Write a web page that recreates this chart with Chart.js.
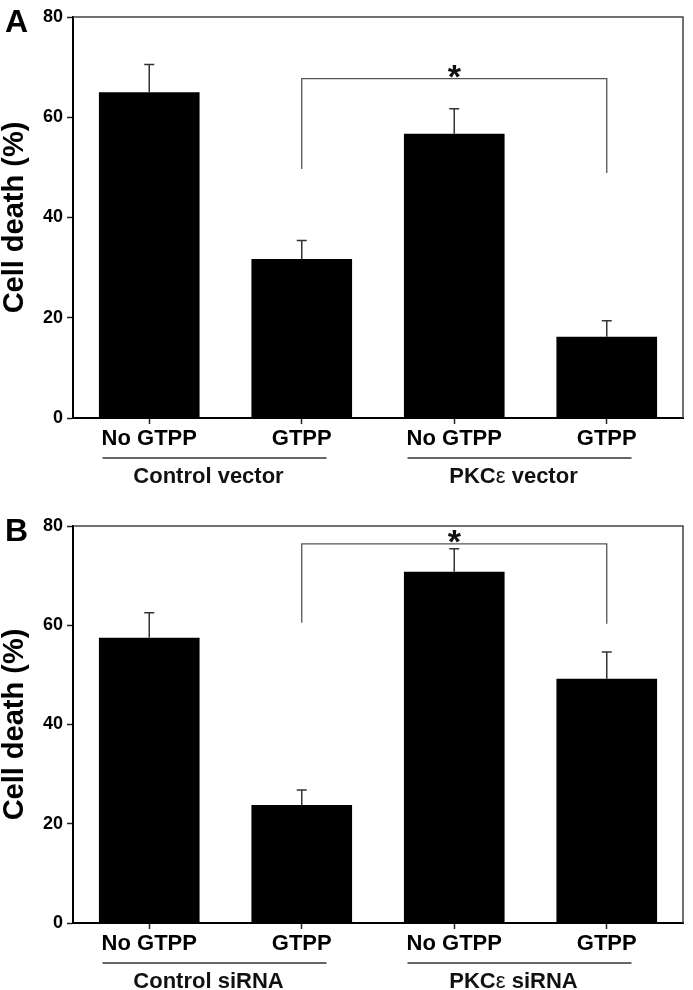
<!DOCTYPE html>
<html>
<head>
<meta charset="utf-8">
<script src="https://cdn.jsdelivr.net/npm/chart.js@4"></script>
<style>
  html, body { margin: 0; padding: 0; background: #fff; }
  .panel { position: absolute; left: 0; width: 693px; }
</style>
</head>
<body>
<div class="panel" style="top:0;height:500px"><canvas id="chartA" width="693" height="500"></canvas></div>
<div class="panel" style="top:500px;height:490px"><canvas id="chartB" width="693" height="490"></canvas></div>
<script>
// Cell death data
const categories = ['No GTPP', 'GTPP', 'No GTPP', 'GTPP'];
const yTicks = [0, 20, 40, 60, 80];

const groupsA = ['Control vector', 'PKCε vector'];
const meansA = [65.0, 31.7, 56.7, 16.2];
const errorsA = [5.5, 3.7, 5.0, 3.2];
const bracketA = [67.7, 49.7, 48.9];   // top, left end, right end

const groupsB = ['Control siRNA', 'PKCε siRNA'];
const meansB = [57.5, 23.8, 70.8, 49.2];
const errorsB = [5.0, 3.0, 4.6, 5.4];
const bracketB = [76.4, 60.5, 60.3];

const FONT = '"Liberation Sans", Arial, Helvetica, sans-serif';

// draw a label with the epsilon in normal weight, like the original
function drawMixed(ctx, text, cx, cy, size) {
    const parts = text.split('ε');
    const pieces = [];
    parts.forEach((p, i) => {
        pieces.push({ t: p, w: 'bold' });
        if (i < parts.length - 1) pieces.push({ t: 'ε', w: 'normal' });
    });
    let total = 0;
    pieces.forEach(p => {
        ctx.font = p.w + ' ' + size + 'px ' + FONT;
        p.width = ctx.measureText(p.t).width;
        total += p.width;
    });
    let x = cx - total / 2;
    ctx.textAlign = 'left';
    ctx.textBaseline = 'middle';
    pieces.forEach(p => {
        ctx.font = p.w + ' ' + size + 'px ' + FONT;
        ctx.fillText(p.t, x, cy);
        x += p.width;
    });
}

function makeChart(id, letter, means, errors, groups, bracket, padTop, xHeight) {
    const extras = {
        id: 'extras',
        beforeDatasetsDraw(chart) {
            // frame top and right
            const a = chart.chartArea;
            const ctx = chart.ctx;
            ctx.save();
            ctx.strokeStyle = '#444';
            ctx.lineWidth = 1.5;
            ctx.beginPath();
            ctx.moveTo(a.left, a.top);
            ctx.lineTo(a.right, a.top);
            ctx.lineTo(a.right, a.bottom);
            ctx.stroke();
            ctx.restore();
        },
        afterDatasetsDraw(chart) {
            const ctx = chart.ctx;
            const y = chart.scales.y;
            const x = chart.scales.x;
            const a = chart.chartArea;
            const bars = chart.getDatasetMeta(0).data;
            ctx.save();

            // error bars (upper only)
            ctx.strokeStyle = '#333';
            ctx.lineWidth = 1.5;
            bars.forEach((bar, i) => {
                const top = y.getPixelForValue(means[i] + errors[i]);
                const base = y.getPixelForValue(means[i]);
                ctx.beginPath();
                ctx.moveTo(bar.x, base);
                ctx.lineTo(bar.x, top);
                ctx.moveTo(bar.x - 5, top);
                ctx.lineTo(bar.x + 5, top);
                ctx.stroke();
            });

            // significance bracket between GTPP bars
            const x1 = x.getPixelForValue(1);
            const x2 = x.getPixelForValue(3);
            const by = y.getPixelForValue(bracket[0]);
            ctx.strokeStyle = '#555';
            ctx.lineWidth = 1.3;
            ctx.beginPath();
            ctx.moveTo(x1, y.getPixelForValue(bracket[1]));
            ctx.lineTo(x1, by);
            ctx.lineTo(x2, by);
            ctx.lineTo(x2, y.getPixelForValue(bracket[2]));
            ctx.stroke();
            ctx.fillStyle = '#111';
            ctx.font = 'bold 34px ' + FONT;
            ctx.textAlign = 'center';
            ctx.textBaseline = 'alphabetic';
            ctx.fillText('*', (x1 + x2) / 2, by + 9);

            // group lines and labels
            ctx.fillStyle = '#111';
            for (let g = 0; g < 2; g++) {
                const cx = (x.getPixelForValue(g * 2) + x.getPixelForValue(g * 2 + 1)) / 2 - 11;
                ctx.strokeStyle = '#333';
                ctx.lineWidth = 1.3;
                ctx.beginPath();
                ctx.moveTo(cx - 112, a.bottom + 40);
                ctx.lineTo(cx + 112, a.bottom + 40);
                ctx.stroke();
                drawMixed(ctx, groups[g], cx - 6, a.bottom + 59, 22);
            }

            // panel letter
            ctx.font = 'bold 32px ' + FONT;
            ctx.textAlign = 'left';
            ctx.textBaseline = 'alphabetic';
            ctx.fillStyle = '#000';
            ctx.fillText(letter, 5, a.top + 15);
            ctx.restore();
        }
    };

    return new Chart(document.getElementById(id), {
        type: 'bar',
        data: {
            labels: categories,
            datasets: [{
                data: means,
                backgroundColor: '#000',
                borderColor: '#222',
                borderWidth: 0,
                barPercentage: 0.66,
                categoryPercentage: 1.0
            }]
        },
        options: {
            responsive: false,
            animation: false,
            layout: { padding: { left: 0, right: 10, top: padTop, bottom: 0 } },
            plugins: {
                legend: { display: false },
                tooltip: { enabled: false }
            },
            scales: {
                y: {
                    min: 0,
                    max: 80,
                    afterBuildTicks: scale => { scale.ticks = yTicks.map(v => ({ value: v })); },
                    afterFit: scale => { scale.width = 73; },
                    ticks: {
                        color: '#000',
                        padding: 4,
                        font: { family: FONT, size: 18, weight: 'bold' }
                    },
                    grid: {
                        drawOnChartArea: false,
                        tickLength: 6,
                        tickWidth: 1.5,
                        tickColor: '#222'
                    },
                    border: { color: '#000', width: 2 },
                    title: {
                        display: true,
                        text: 'Cell death (%)',
                        color: '#000',
                        padding: 0,
                        font: { family: FONT, size: 29, weight: 'bold', lineHeight: 1 }
                    }
                },
                x: {
                    afterFit: scale => { scale.height = xHeight; },
                    ticks: {
                        color: '#000',
                        padding: 2,
                        maxRotation: 0,
                        font: { family: FONT, size: 22, weight: 'bold' }
                    },
                    grid: {
                        offset: false,
                        drawOnChartArea: false,
                        tickLength: 6,
                        tickWidth: 1.5,
                        tickColor: '#222'
                    },
                    border: { color: '#000', width: 2 }
                }
            }
        },
        plugins: [extras]
    });
}

makeChart('chartA', 'A', meansA, errorsA, groupsA, bracketA, 17, 82);
makeChart('chartB', 'B', meansB, errorsB, groupsB, bracketB, 26, 67);
</script>
</body>
</html>
